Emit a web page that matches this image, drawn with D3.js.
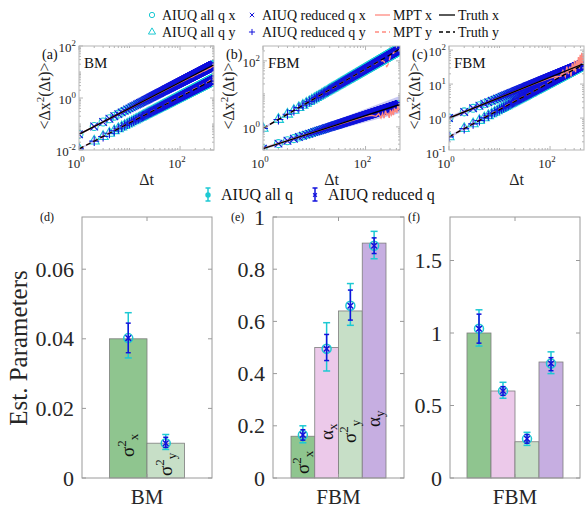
<!DOCTYPE html>
<html lang="en">
<head>
<meta charset="UTF-8">
<title>AIUQ MSD and estimated parameters</title>
<script src="https://cdn.jsdelivr.net/npm/d3@7"></script>
<style>
	body{margin:0;background:#fff;}
	svg{display:block;}
	svg text{font-family:"Liberation Serif","DejaVu Serif",serif;}
</style>
</head>
<body>
<svg id="svg" width="586" height="508" font-family="Liberation Serif, DejaVu Serif, serif"></svg>
<script>
// ---------- top row: MSD curves ----------
var topTags = ["(a)", "(b)", "(c)"];
var topModels = ["BM", "FBM", "FBM"];
var maxLag = 470;
// MSD at lag 1 and slope
var msdStartX = [0.04, 0.22, 1.0];
var msdAlphaX = [1.0, 0.5, 0.6];
var msdStartY = [0.011, 0.9, 0.28];
var msdAlphaY = [1.0, 0.9, 0.8];
// half width of the shaded band (decades) at lag 1 and at the last lag
var bandStartX = [0.03, 0.03, 0.05], bandEndX = [0.05, 0.26, 0.12];
var bandStartY = [0.03, 0.03, 0.04], bandEndY = [0.05, 0.06, 0.08];
var yDomainExp = [[-2, 2], [-0.7, 2.45], [-0.94, 2.12]];
var yTickExp = [[-2, 0, 2], [0, 2], [-1, 0, 1, 2]];
var xTickExp = [0, 2];
// MPT curve as ratio to the truth at some lags
var mptLags = [1, 10, 50, 100, 130, 160, 180, 200, 215, 230, 245, 260, 275, 290, 305, 320, 335, 350, 365, 380, 395, 410, 425, 440, 455, 470];
var mptX = [
	[1.0, 1.0, 0.98, 0.97, 0.95, 0.96, 0.93, 0.95, 0.92, 0.94, 0.9, 0.93, 0.91, 0.95, 0.9, 0.92, 0.88, 0.93, 0.9, 0.94, 0.89, 0.92, 0.9, 0.95, 0.91, 0.93],
	[1.0, 1.0, 0.97, 0.95, 0.9, 0.75, 0.85, 0.6, 0.8, 0.55, 0.9, 0.65, 0.7, 0.5, 0.85, 0.6, 0.75, 0.55, 0.9, 0.65, 0.8, 0.6, 0.95, 0.7, 0.85, 0.75],
	[1.0, 1.0, 0.98, 0.95, 0.9, 0.8, 1.1, 0.7, 1.3, 0.75, 1.2, 0.6, 1.4, 0.8, 1.6, 0.7, 1.5, 0.9, 1.8, 0.8, 2.0, 1.1, 2.2, 1.0, 1.9, 1.3]
];
var mptY = [
	[1.0, 1.02, 1.0, 1.03, 1.05, 1.02, 1.06, 1.03, 1.07, 1.04, 1.08, 1.05, 1.02, 1.07, 1.04, 1.09, 1.05, 1.03, 1.08, 1.06, 1.1, 1.04, 1.07, 1.05, 1.09, 1.06],
	[1.0, 1.0, 1.0, 0.98, 1.0, 0.97, 1.0, 0.95, 0.9, 0.8, 0.6, 0.5, 0.55, 0.7, 0.9, 0.95, 1.0, 0.97, 1.02, 0.98, 1.0, 0.96, 1.0, 1.02, 0.98, 1.0],
	[1.0, 1.03, 1.0, 1.05, 1.1, 0.95, 1.15, 1.0, 1.2, 1.05, 0.95, 1.25, 1.1, 1.3, 1.0, 1.2, 1.15, 1.35, 1.05, 1.25, 1.4, 1.15, 1.3, 1.2, 1.45, 1.25]
];

// ---------- bottom row: estimated parameters ----------
var barTags = ["(d)", "(e)", "(f)"];
var barModels = ["BM", "FBM", "FBM"];
var barKeys = [["s2x", "s2y"], ["s2x", "ax", "s2y", "ay"], ["s2x", "ax", "s2y", "ay"]];
var yMax = [0.075, 1, 1.8];
var yTicks = [[0, 0.02, 0.04, 0.06], [0, 0.2, 0.4, 0.6, 0.8, 1], [0, 0.5, 1, 1.5]];
var truthVals = [[0.04, 0.01], [0.16, 0.5, 0.64, 0.9], [1.0, 0.6, 0.25, 0.8]];
var estAll = [[0.0402, 0.0100], [0.165, 0.495, 0.66, 0.89], [1.03, 0.60, 0.27, 0.79]];
var allLo = [[0.0345, 0.0082], [0.135, 0.41, 0.585, 0.84], [0.91, 0.55, 0.225, 0.72]];
var allHi = [[0.0475, 0.0125], [0.20, 0.595, 0.745, 0.945], [1.16, 0.66, 0.315, 0.87]];
var redLo = [[0.036, 0.0088], [0.145, 0.45, 0.605, 0.86], [0.93, 0.57, 0.24, 0.74]];
var redHi = [[0.0445, 0.0117], [0.185, 0.55, 0.72, 0.92], [1.13, 0.63, 0.30, 0.83]];
var showBarText = [true, true, false];

var CYAN = "#1dc9d3", BLUE = "#1212dc", RED = "#ff8a80", BANDC = "#8f8fe8";
var barColor = {s2x: "#8fc58f", ax: "#ecc9ea", s2y: "#c7dfc7", ay: "#c6aee1"};
var barText = {s2x: ["σ", "2", "x"], ax: ["α", "", "x"], s2y: ["σ", "2", "y"], ay: ["α", "", "y"]};
var SERIF = "Liberation Serif, DejaVu Serif, serif";

var svg = d3.select("#svg");
var defs = svg.append("defs");

// ================= top panels =================
var topBox = [{l: 79, r: 214}, {l: 263, r: 400}, {l: 449, r: 584}];
var topT = 46, topB = 150;
var lags = d3.range(1, maxLag + 1);

function supText(sel, base, sup, x, y, anchor, size) {
	var t = sel.append("text").attr("x", x).attr("y", y).attr("font-family", SERIF)
		.attr("text-anchor", anchor).attr("font-size", size).attr("fill", "#262626");
	t.append("tspan").text(base);
	t.append("tspan").attr("dy", -size * 0.45).attr("font-size", size * 0.68).text(sup);
	return t;
}

topTags.forEach(function(tag, i) {
	var L = topBox[i].l, R = topBox[i].r;
	var x = d3.scaleLog().domain([1, maxLag]).range([L, R]);
	var y = d3.scaleLog().domain(yDomainExp[i].map(function(e) { return Math.pow(10, e); })).range([topB, topT]);
	var g = svg.append("g").attr("font-family", SERIF);

	defs.append("clipPath").attr("id", "clipTop" + i)
		.append("rect").attr("x", L).attr("y", topT).attr("width", R - L).attr("height", topB - topT);
	var plot = g.append("g").attr("clip-path", "url(#clipTop" + i + ")");

	var series = [
		{s0: msdStartX[i], a: msdAlphaX[i], b0: bandStartX[i], b1: bandEndX[i], mpt: mptX[i], dash: null,
			cyanSym: d3.symbolCircle, cyanSize: 50, blueSym: d3.symbolTimes, blueSize: 40},
		{s0: msdStartY[i], a: msdAlphaY[i], b0: bandStartY[i], b1: bandEndY[i], mpt: mptY[i], dash: "5,3",
			cyanSym: d3.symbolTriangle, cyanSize: 44, blueSym: d3.symbolPlus, blueSize: 34}
	];
	function truth(s, t) { return s.s0 * Math.pow(t, s.a); }
	function halfW(s, t) { return s.b0 + (s.b1 - s.b0) * Math.log10(t) / Math.log10(maxLag); }

	series.forEach(function(s) {
		plot.append("path").datum(lags)
			.attr("fill", BANDC).attr("fill-opacity", 0.5)
			.attr("d", d3.area()
				.x(function(t) { return x(t); })
				.y0(function(t) { return y(truth(s, t) * Math.pow(10, -halfW(s, t))); })
				.y1(function(t) { return y(truth(s, t) * Math.pow(10, halfW(s, t))); }));
	});
	series.forEach(function(s) {
		plot.append("g").selectAll("path").data(lags).enter().append("path")
			.attr("transform", function(t) { return "translate(" + x(t) + "," + y(truth(s, t)) + ")"; })
			.attr("d", d3.symbol().type(s.cyanSym).size(s.cyanSize))
			.attr("fill", "none").attr("stroke", CYAN).attr("stroke-width", 1.1);
	});
	series.forEach(function(s) {
		plot.append("g").selectAll("path").data(lags).enter().append("path")
			.attr("transform", function(t) { return "translate(" + x(t) + "," + y(truth(s, t)) + ")"; })
			.attr("d", d3.symbol().type(s.blueSym).size(s.blueSize))
			.attr("fill", "none").attr("stroke", BLUE).attr("stroke-width", 1.1);
	});
	series.forEach(function(s) {
		plot.append("path").datum(mptLags)
			.attr("fill", "none").attr("stroke", RED).attr("stroke-width", 1.4)
			.attr("stroke-dasharray", s.dash)
			.attr("d", d3.line()
				.x(function(t) { return x(t); })
				.y(function(t, k) { return y(truth(s, t) * s.mpt[k]); }));
	});
	series.forEach(function(s) {
		plot.append("path").datum([1, maxLag])
			.attr("fill", "none").attr("stroke", "#000").attr("stroke-width", 1.3)
			.attr("stroke-dasharray", s.dash)
			.attr("d", d3.line().x(function(t) { return x(t); }).y(function(t) { return y(truth(s, t)); }));
	});

	// box and ticks
	var ax = g.append("g").attr("stroke", "#b5b5b5").attr("fill", "none");
	ax.append("rect").attr("x", L).attr("y", topT).attr("width", R - L).attr("height", topB - topT);
	for (var e = 0; e <= 2; e++) {
		for (var m = 1; m <= 9; m++) {
			var v = m * Math.pow(10, e);
			if (v > maxLag) break;
			var len = (m === 1 && xTickExp.indexOf(e) >= 0) ? 4 : 2;
			ax.append("line").attr("x1", x(v)).attr("x2", x(v)).attr("y1", topB).attr("y2", topB - len);
			ax.append("line").attr("x1", x(v)).attr("x2", x(v)).attr("y1", topT).attr("y2", topT + len);
		}
	}
	var lo = Math.floor(yDomainExp[i][0]), hi = Math.ceil(yDomainExp[i][1]);
	for (var e2 = lo; e2 <= hi; e2++) {
		for (var m2 = 1; m2 <= 9; m2++) {
			var v2 = m2 * Math.pow(10, e2);
			var yy = y(v2);
			if (yy < topT - 0.1 || yy > topB + 0.1) continue;
			var len2 = (m2 === 1 && yTickExp[i].indexOf(e2) >= 0) ? 4 : 2;
			ax.append("line").attr("x1", L).attr("x2", L + len2).attr("y1", yy).attr("y2", yy);
			ax.append("line").attr("x1", R).attr("x2", R - len2).attr("y1", yy).attr("y2", yy);
		}
	}
	xTickExp.forEach(function(e) {
		supText(g, "10", String(e), x(Math.pow(10, e)) - 3, 168, "middle", 13);
	});
	yTickExp[i].forEach(function(e) {
		supText(g, "10", String(e), L - 3, y(Math.pow(10, e)) + 6, "end", 13);
	});
	g.append("text").attr("x", (L + R) / 2).attr("y", 185).attr("text-anchor", "middle")
		.attr("font-size", 16).attr("fill", "#262626").text("Δt");
	var yl = g.append("text").attr("transform", "translate(" + (L - 29) + "," + ((topT + topB) / 2 - 2) + ") rotate(-90)")
		.attr("text-anchor", "middle").attr("font-size", 16).attr("fill", "#262626");
	yl.append("tspan").text("<Δx");
	yl.append("tspan").attr("dy", -6).attr("font-size", 11).text("2");
	yl.append("tspan").attr("dy", 6).text("(Δt)>");
	g.append("text").attr("x", L - 37).attr("y", 59).attr("font-size", 14).attr("fill", "#111").text(tag);
	g.append("text").attr("x", L + 5).attr("y", 68).attr("font-size", 15).attr("fill", "#111").text(topModels[i]);
});

// top legend
var leg = svg.append("g").attr("font-size", 14).attr("fill", "#111").attr("font-family", SERIF);
var legRows = [
	{y: 15, cyan: d3.symbolCircle, blue: d3.symbolTimes, dim: "x", dash: null},
	{y: 32, cyan: d3.symbolTriangle, blue: d3.symbolPlus, dim: "y", dash: "4,3"}
];
legRows.forEach(function(r) {
	leg.append("path").attr("transform", "translate(152," + r.y + ")")
		.attr("d", d3.symbol().type(r.cyan).size(22)).attr("fill", "none").attr("stroke", CYAN);
	leg.append("text").attr("x", 162).attr("y", r.y + 5).text("AIUQ all q " + r.dim);
	leg.append("path").attr("transform", "translate(252," + r.y + ")")
		.attr("d", d3.symbol().type(r.blue).size(14)).attr("fill", "none").attr("stroke", BLUE);
	leg.append("text").attr("x", 262).attr("y", r.y + 5).text("AIUQ reduced q " + r.dim);
	leg.append("line").attr("x1", 375).attr("x2", 390).attr("y1", r.y).attr("y2", r.y)
		.attr("stroke", RED).attr("stroke-width", 1.3).attr("stroke-dasharray", r.dash);
	leg.append("text").attr("x", 393).attr("y", r.y + 5).text("MPT " + r.dim);
	leg.append("line").attr("x1", 439).attr("x2", 455).attr("y1", r.y).attr("y2", r.y)
		.attr("stroke", "#000").attr("stroke-width", 1.3).attr("stroke-dasharray", r.dash);
	leg.append("text").attr("x", 458).attr("y", r.y + 5).text("Truth " + r.dim);
});

// middle legend
var leg2 = svg.append("g").attr("font-size", 16).attr("fill", "#111").attr("font-family", SERIF);
[{x: 208, c: CYAN, label: "AIUQ all q"}, {x: 315, c: BLUE, label: "AIUQ reduced q"}].forEach(function(it, k) {
	var gg = leg2.append("g").attr("stroke", it.c).attr("stroke-width", 1.5).attr("fill", "none");
	gg.append("line").attr("x1", it.x).attr("x2", it.x).attr("y1", 188).attr("y2", 201);
	gg.append("line").attr("x1", it.x - 2.5).attr("x2", it.x + 2.5).attr("y1", 188).attr("y2", 188);
	gg.append("line").attr("x1", it.x - 2.5).attr("x2", it.x + 2.5).attr("y1", 201).attr("y2", 201);
	gg.append("path").attr("transform", "translate(" + it.x + ",195)")
		.attr("d", d3.symbol().type(k === 0 ? d3.symbolCircle : d3.symbolTimes).size(k === 0 ? 12 : 10))
		.attr("fill", k === 0 ? it.c : "none");
	leg2.append("text").attr("x", it.x + 13).attr("y", 200).text(it.label);
});

// ================= bottom panels =================
var botBox = [{l: 82, r: 212, gw: 75}, {l: 273, r: 404, gw: 95}, {l: 450, r: 580, gw: 96}];
var botT = 217, botB = 478;
// bottom of the rotated bar text, in px
var textBottom = [[457, 476], [474, 440, 443, 427]];

barTags.forEach(function(tag, i) {
	var L = botBox[i].l, R = botBox[i].r, cx = (L + R) / 2;
	var keys = barKeys[i];
	var x = d3.scaleBand().domain(keys).range([cx - botBox[i].gw / 2, cx + botBox[i].gw / 2]);
	var y = d3.scaleLinear().domain([0, yMax[i]]).range([botB, botT]);
	var g = svg.append("g").attr("font-family", SERIF);

	g.append("g").selectAll("rect").data(keys).enter().append("rect")
		.attr("x", function(k) { return x(k); })
		.attr("width", x.bandwidth())
		.attr("y", function(k, j) { return y(truthVals[i][j]); })
		.attr("height", function(k, j) { return botB - y(truthVals[i][j]); })
		.attr("fill", function(k) { return barColor[k]; })
		.attr("stroke", "#7d7d7d").attr("stroke-width", 0.8);

	if (showBarText[i]) {
		keys.forEach(function(k, j) {
			var tx = x(k) + x.bandwidth() / 2 + 6, ty = textBottom[i][j];
			var t = g.append("text").attr("transform", "translate(" + tx + "," + ty + ") rotate(-90)")
				.attr("font-size", 19).attr("fill", "#111");
			var parts = barText[k];
			t.append("tspan").text(parts[0]);
			if (parts[1]) t.append("tspan").attr("dy", -8).attr("font-size", 13).text(parts[1]);
			t.append("tspan").attr("dy", parts[1] ? 12 : 4).attr("font-size", 13).text(parts[2]);
		});
	}

	// error bars
	keys.forEach(function(k, j) {
		var px = x(k) + x.bandwidth() / 2;
		var c = g.append("g").attr("stroke", CYAN).attr("stroke-width", 1.5).attr("fill", "none");
		c.append("line").attr("x1", px).attr("x2", px).attr("y1", y(allLo[i][j])).attr("y2", y(allHi[i][j]));
		[allLo[i][j], allHi[i][j]].forEach(function(v) {
			c.append("line").attr("x1", px - 3.5).attr("x2", px + 3.5).attr("y1", y(v)).attr("y2", y(v));
		});
		c.append("circle").attr("cx", px).attr("cy", y(estAll[i][j])).attr("r", 4.5);
		var b = g.append("g").attr("stroke", BLUE).attr("stroke-width", 1.5).attr("fill", "none");
		b.append("line").attr("x1", px).attr("x2", px).attr("y1", y(redLo[i][j])).attr("y2", y(redHi[i][j]));
		[redLo[i][j], redHi[i][j]].forEach(function(v) {
			b.append("line").attr("x1", px - 2.5).attr("x2", px + 2.5).attr("y1", y(v)).attr("y2", y(v));
		});
		b.append("path").attr("transform", "translate(" + px + "," + y(estAll[i][j]) + ")")
			.attr("d", d3.symbol().type(d3.symbolTimes).size(22));
	});

	// box, ticks, labels
	var ax = g.append("g").attr("stroke", "#9a9a9a").attr("fill", "none");
	ax.append("rect").attr("x", L).attr("y", botT).attr("width", R - L).attr("height", botB - botT);
	yTicks[i].forEach(function(v) {
		ax.append("line").attr("x1", L).attr("x2", L + 4).attr("y1", y(v)).attr("y2", y(v));
		ax.append("line").attr("x1", R).attr("x2", R - 4).attr("y1", y(v)).attr("y2", y(v));
		g.append("text").attr("x", L - 8).attr("y", y(v) + 7.5).attr("text-anchor", "end")
			.attr("font-size", 22).attr("fill", "#262626").text(v);
	});
	ax.append("line").attr("x1", cx).attr("x2", cx).attr("y1", botB).attr("y2", botB - 4);
	ax.append("line").attr("x1", cx).attr("x2", cx).attr("y1", botT).attr("y2", botT + 4);
	g.append("text").attr("x", cx).attr("y", 504).attr("text-anchor", "middle")
		.attr("font-size", 21).attr("fill", "#262626").text(barModels[i]);
	g.append("text").attr("x", L - 42).attr("y", 221).attr("font-size", 12).attr("fill", "#111").text(tag);
});

svg.append("text").attr("transform", "translate(27,348) rotate(-90)").attr("font-family", SERIF)
	.attr("text-anchor", "middle").attr("font-size", 25).attr("fill", "#262626").text("Est. Parameters");
</script>
</body>
</html>
